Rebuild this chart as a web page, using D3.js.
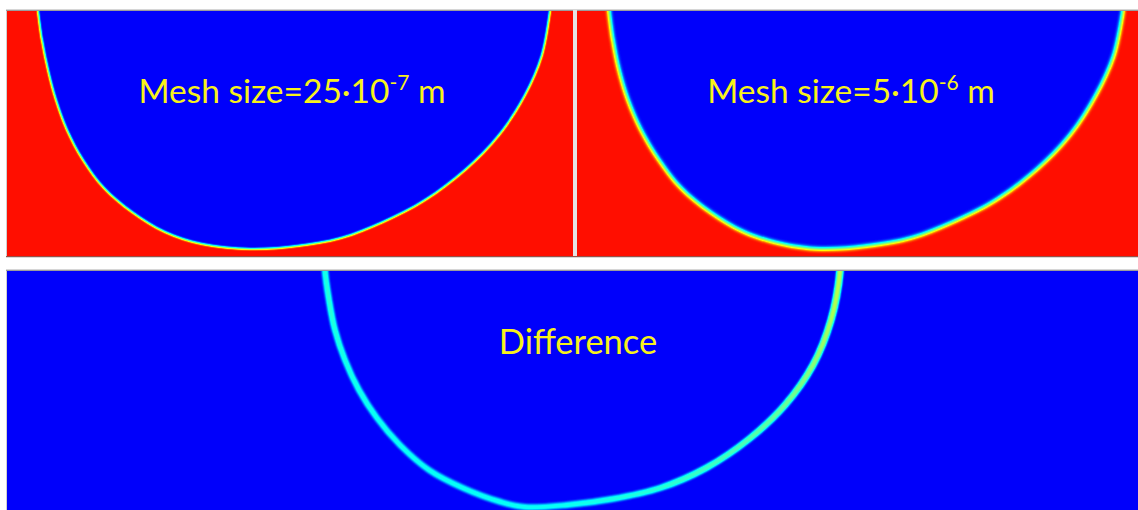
<!DOCTYPE html>
<html><head><meta charset="utf-8">
<script src="https://cdn.jsdelivr.net/npm/d3@7"></script>
<style>html,body{margin:0;padding:0;background:#fff;overflow:hidden}svg{display:block}</style>
</head><body>
<svg id="chart" width="1138" height="510"></svg>
<script>
// Melt-pool interface (phase-field 0.5 contour), [x, depth] in µm from the window's top-left corner
const fineMeshInterface = [
  [6.2,0],[7.0,5.8],[8.2,11.8],[9.8,17.8],[12.0,23.8],[15.2,29.8],[19.4,35.4],[25.0,40.2],
  [31.6,44.2],[39.0,46.6],[48.6,47.6],[58.0,47.0],[66.8,45.4],[75.2,42.2],[83.6,37.8],
  [91.6,31.8],[98.4,24.8],[103.6,16.8],[107.0,8.8],[108.6,0]
];
const coarseMeshInterface = [
  [6.4,0],[7.2,5.8],[8.4,11.8],[10.2,17.8],[12.8,23.8],[16.4,29.8],[20.8,35.4],[26.6,40.2],
  [33.4,44.2],[41.0,46.6],[48.6,47.6],[58.0,47.0],[66.8,45.4],[75.2,42.2],[83.8,37.8],
  [91.8,31.8],[98.6,24.8],[103.8,16.8],[107.4,8.8],[109.2,0]
];
// Where the two solutions disagree, placed in the wider difference window
const differenceBand = [
  [63.6,0],[64.4,5.8],[65.6,11.8],[67.6,17.8],[70.4,23.8],[74.0,29.4],[78.6,34.8],[84.4,39.8],
  [91.2,43.4],[98.8,46.2],[103.6,47.2],[112.0,46.8],[121.0,45.6],[130.6,43.4],[139.8,39.4],
  [148.4,33.6],[155.6,26.8],[161.2,18.8],[164.8,9.8],[166.6,0]
];
// |phi_fine - phi_coarse| along the band, one value per band point
const differenceMagnitude = [
  0.30,0.33,0.31,0.30,0.29,0.28,0.28,0.27,0.27,0.27,0.27,0.28,0.30,0.33,0.37,
  0.41,0.46,0.52,0.58,0.62
];
// Jet-type colormap, phase value 0 (liquid) .. 1 (solid)
const phaseColorStops = ["#0000fc","#00ffff","#80ff80","#ffff00","#ff0e00"];
const panelTitles = [
  {text:"Mesh size=25·10", sup:"-7", unit:" m"},
  {text:"Mesh size=5·10",  sup:"-6", unit:" m"},
  {text:"Difference",      sup:"",   unit:""}
];

const svg = d3.select("#chart");
const defs = svg.append("defs");
svg.append("rect").attr("width",1138).attr("height",510).attr("fill","#fff");

const panels = [
  {id:"fine",   x:7,   y:11,  w:566,  h:245, domX:[0,113.2], domY:[0,49],   pts:fineMeshInterface,   sigma:1.1, title:panelTitles[0], tx:292, ty:103, fs:33.5},
  {id:"coarse", x:577, y:11,  w:561,  h:245, domX:[0,112.2], domY:[0,49],   pts:coarseMeshInterface, sigma:1.9, title:panelTitles[1], tx:851, ty:103, fs:33.5},
  {id:"diff",   x:7,   y:271, w:1131, h:239, domX:[0,226.2], domY:[0,47.8], pts:differenceBand,      sigma:1.3, title:panelTitles[2], tx:578, ty:354, fs:34.5}
];

const stopCols = phaseColorStops.map(c => d3.rgb(c));
function jetFilter(id, sigma) {
  const f = defs.append("filter").attr("id", id)
    .attr("filterUnits","userSpaceOnUse").attr("x",0).attr("y",0).attr("width",1138).attr("height",510)
    .attr("color-interpolation-filters","sRGB");
  f.append("feGaussianBlur").attr("stdDeviation", sigma);
  const ct = f.append("feComponentTransfer");
  ct.append("feFuncR").attr("type","table").attr("tableValues", stopCols.map(c => (c.r/255).toFixed(3)).join(" "));
  ct.append("feFuncG").attr("type","table").attr("tableValues", stopCols.map(c => (c.g/255).toFixed(3)).join(" "));
  ct.append("feFuncB").attr("type","table").attr("tableValues", stopCols.map(c => (c.b/255).toFixed(3)).join(" "));
}

const grey = v => { const g = Math.round(v*255); return `rgb(${g},${g},${g})`; };

panels.forEach(p => {
  const x = d3.scaleLinear().domain(p.domX).range([p.x, p.x + p.w]);
  const y = d3.scaleLinear().domain(p.domY).range([p.y, p.y + p.h]);
  const line = d3.line().x(d => x(d[0])).y(d => y(d[1])).curve(d3.curveCatmullRom.alpha(0.5));

  defs.append("clipPath").attr("id", "clip-" + p.id)
    .append("rect").attr("x", p.x).attr("y", p.y).attr("width", p.w).attr("height", p.h);
  jetFilter("jet-" + p.id, p.sigma);

  const outer = svg.append("g").attr("clip-path", `url(#clip-${p.id})`);
  const field = outer.append("g").attr("filter", `url(#jet-${p.id})`);

  if (p.id !== "diff") {
    // phase field: solid (1) outside the pool, liquid (0) inside
    field.append("rect").attr("x", p.x - 20).attr("y", p.y - 20)
      .attr("width", p.w + 40).attr("height", p.h + 40).attr("fill", grey(1));
    const first = p.pts[0], last = p.pts[p.pts.length - 1];
    const d = line(p.pts) + `L${x(last[0])},${y(-5)}L${x(first[0])},${y(-5)}Z`;
    field.append("path").attr("d", d).attr("fill", grey(0));
  } else {
    field.append("rect").attr("x", p.x - 20).attr("y", p.y - 20)
      .attr("width", p.w + 40).attr("height", p.h + 40).attr("fill", grey(0));
    const x0 = x(p.pts[0][0]), x1 = x(p.pts[p.pts.length - 1][0]);
    const grad = defs.append("linearGradient").attr("id", "diffGrad")
      .attr("gradientUnits","userSpaceOnUse").attr("x1", x0).attr("x2", x1).attr("y1", 0).attr("y2", 0);
    p.pts.forEach((pt, i) => {
      grad.append("stop").attr("offset", (x(pt[0]) - x0) / (x1 - x0)).attr("stop-color", grey(differenceMagnitude[i]));
    });
    const ext = [[p.pts[0][0], -3], ...p.pts, [p.pts[p.pts.length-1][0], -3]];
    field.append("path").attr("d", line(ext)).attr("fill", "none")
      .attr("stroke", "url(#diffGrad)").attr("stroke-width", 6);
  }

  const t = svg.append("text").attr("x", p.tx).attr("y", p.ty).attr("text-anchor", "middle")
    .attr("font-family", "Lato, 'Open Sans', sans-serif").attr("font-size", p.fs).attr("fill", "#f8f21a");
  t.append("tspan").text(p.title.text);
  if (p.title.sup) {
    t.append("tspan").attr("font-size", 21).attr("dy", -13).text(p.title.sup);
    t.append("tspan").attr("dy", 13).text(p.title.unit);
  }
});

// panel frames
const frame = svg.append("g");
frame.append("rect").attr("x", 6).attr("y", 9).attr("width", 1132).attr("height", 1).attr("fill", "#d6d6d6");
frame.append("rect").attr("x", 6).attr("y", 10).attr("width", 1132).attr("height", 1).attr("fill", "#9c9c9c");
frame.append("rect").attr("x", 6).attr("y", 11).attr("width", 1).attr("height", 245).attr("fill", "#cfcfcf");
frame.append("rect").attr("x", 573).attr("y", 10).attr("width", 4).attr("height", 247).attr("fill", "#e4e4e4");
frame.append("rect").attr("x", 6).attr("y", 256).attr("width", 1132).attr("height", 1).attr("fill", "#9a5048");
frame.append("rect").attr("x", 6).attr("y", 257).attr("width", 1132).attr("height", 1).attr("fill", "#d8d8d8");
frame.append("rect").attr("x", 6).attr("y", 269).attr("width", 1132).attr("height", 1).attr("fill", "#d6d6d6");
frame.append("rect").attr("x", 6).attr("y", 270).attr("width", 1132).attr("height", 1).attr("fill", "#9c9c9c");
frame.append("rect").attr("x", 6).attr("y", 271).attr("width", 1).attr("height", 239).attr("fill", "#cfcfcf");
</script>
</body></html>
